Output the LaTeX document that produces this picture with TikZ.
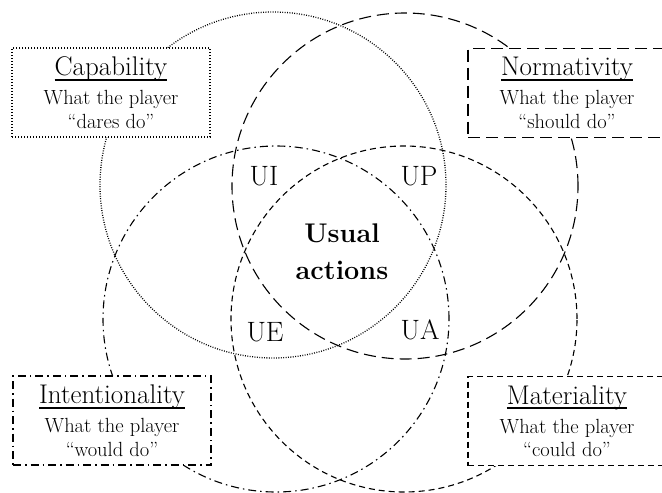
\documentclass[tikz,border=0pt]{standalone}
\usepackage{tikz}

\begin{document}
\begin{tikzpicture}[
  x=1pt, y=-1pt,
  ring/.style={circle, draw, line width=1.1pt, minimum size=346pt, inner sep=0pt},
  capline/.style={line width=1.3pt, dash pattern=on 0.9pt off 1.5pt},
  normline/.style={dash pattern=on 12pt off 6pt},
  intline/.style={dash pattern=on 8pt off 4pt on 1.5pt off 4pt},
  matline/.style={dash pattern=on 6pt off 4pt},
  box/.style={draw, fill=white, line width=1.4pt, minimum width=198pt, minimum height=89pt,
    align=center, inner sep=0pt, font=\fontsize{20.5}{23.5}\selectfont},
  lbl/.style={font=\fontsize{28}{30}\selectfont, inner sep=0pt}
]
% title with a heavier underline; its depth is dropped so the lines stay evenly spaced
\newcommand{\boxtitle}[1]{{\fontsize{27}{28}\selectfont\setbox0=\hbox{#1}%
  \setbox1=\hbox{\rlap{\rule[-5pt]{\wd0}{1.7pt}}\box0}\dp1=0pt\box1}}

\clip (0,0) rectangle (662,493);

% --- the four sets ---
\node[ring, capline]  (cap)    at (273,185) {};
\node[ring, normline] (norm)   at (405,186) {};
\node[ring, intline]  (intent) at (276,319) {};
\node[ring, matline]  (mat)    at (404,319) {};

% --- intersections ---
\node[lbl] (ui) at (264,176) {UI};
\node[lbl] (up) at (419,176) {UP};
\node[lbl] (ue) at (265,332) {UE};
\node[lbl] (ua) at (420,330) {UA};

\node[align=center, font=\bfseries\fontsize{27}{37}\selectfont] (usual) at (342,252) {Usual\\actions};

% --- legend boxes ---
\node[box, dash pattern=on 1.2pt off 1.8pt] (capbox) at (111,92.5)
  {\boxtitle{Capability}\\[5.5pt] What the player\\ “dares do”};
\node[box, normline] (normbox) at (567,93)
  {\boxtitle{Normativity}\\[5.5pt] What the player\\ “should do”};
\node[box, intline] (intbox) at (112,420.5)
  {\boxtitle{Intentionality}\\[5.5pt] What the player\\ “would do”};
\node[box, matline] (matbox) at (567,421)
  {\boxtitle{Materiality}\\[5.5pt] What the player\\ “could do”};

\end{tikzpicture}
\end{document}
